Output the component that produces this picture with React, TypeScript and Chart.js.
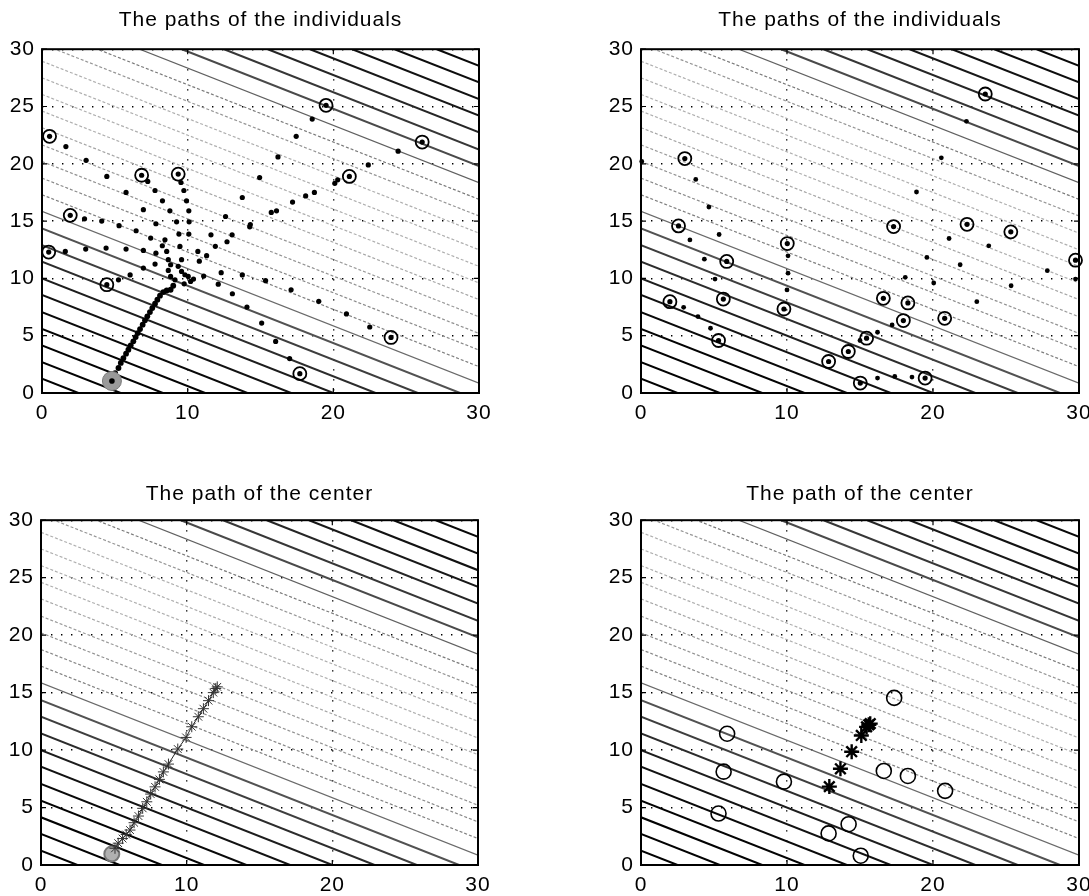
import React, { useEffect, useRef } from "react";
import { Chart, registerables } from "chart.js";

Chart.register(...registerables);

// ---------- data ----------
// contour levels of the nutrient plane f(x, y) = x + 2y
const CONTOUR_LEVELS = [
  2.5, 5.4, 8.3, 11.2, 14.1, 17.1, 20.0, 22.9, 25.8, 28.7,
  31.7, 34.6, 37.5, 40.4, 43.3, 46.3, 49.2, 52.1, 55.0, 57.9,
  60.9, 63.8, 66.7, 69.6, 72.5, 75.5, 78.4, 81.3, 84.2, 87.1,
];

const X_TICKS = [0, 10, 20, 30];
const Y_TICKS = [0, 5, 10, 15, 20, 25, 30];

const TITLE_INDIVIDUALS = "The paths of the individuals";
const TITLE_CENTER = "The path of the center";

// Run 1 – individuals
const RUN1_START: [number, number][] = [[4.8, 1.05]];
const RUN1_CHAIN: [number, number][] = [
  [5.02, 1.74], [5.25, 2.18], [5.41, 2.62], [5.59, 3.05], [5.77, 3.43], [5.93, 3.78],
  [6.09, 4.16], [6.27, 4.51], [6.43, 4.88], [6.57, 5.23], [6.73, 5.58], [6.91, 5.96],
  [7.07, 6.34], [7.23, 6.69], [7.41, 7.06], [7.57, 7.41], [7.76, 7.79], [7.92, 8.14],
  [8.1, 8.49], [8.33, 8.81], [8.56, 8.95], [8.83, 9.01], [9.01, 9.36],
];
const RUN1_CLUSTER: [number, number][] = [
  [8.67, 11.63], [8.83, 11.19], [8.67, 10.7], [8.83, 10.17], [9.13, 9.88], [9.35, 11.05],
  [9.58, 11.63], [9.58, 10.61], [9.81, 10.32], [9.76, 9.53], [10.04, 10.17], [10.2, 9.74],
  [8.56, 12.35],
];
const RUN1_DOTS: [number, number][] = [
  [1.64, 21.5], [3.03, 20.3], [4.45, 18.9], [5.77, 17.5], [2.92, 15.2], [4.1, 15.0],
  [5.29, 14.6], [1.6, 12.35], [3.0, 12.56], [4.4, 12.65], [5.77, 12.56], [6.46, 14.16],
  [6.96, 16.0], [7.26, 18.46], [7.76, 17.67], [8.27, 16.77], [8.78, 15.9], [9.24, 14.94],
  [9.4, 13.87], [9.47, 12.79], [9.54, 18.37], [9.74, 17.67], [9.92, 16.77], [10.08, 15.9],
  [10.1, 14.94], [10.08, 13.87], [7.46, 13.52], [7.82, 14.77], [8.44, 13.37], [7.82, 12.2],
  [8.26, 12.85], [6.96, 12.44], [6.96, 10.9], [6.05, 10.3], [7.76, 11.25], [5.25, 9.88],
  [10.7, 12.35], [11.3, 11.98], [10.8, 11.5], [11.1, 10.2], [10.4, 9.94], [11.6, 13.8],
  [11.9, 12.8], [12.3, 10.5], [12.1, 9.5], [12.6, 15.4], [12.7, 13.2], [13.05, 13.8],
  [13.07, 8.66], [13.75, 17.06], [13.75, 10.3], [14.07, 7.5], [14.3, 14.7], [14.26, 14.5],
  [14.94, 18.8], [15.08, 6.1], [15.35, 9.8], [15.74, 15.76], [16.1, 15.9], [16.2, 20.6],
  [16.04, 4.5], [17.0, 3.0], [17.1, 9.0], [17.2, 16.66], [17.45, 22.4], [18.1, 17.2],
  [18.55, 23.9], [18.7, 17.5], [19.0, 8.0], [20.1, 18.3], [20.3, 18.6], [20.9, 6.9],
  [22.4, 19.9], [22.5, 5.76], [24.45, 21.1],
];
const RUN1_FINAL: [number, number][] = [
  [0.52, 22.4], [19.5, 25.1], [26.1, 21.9], [21.1, 18.9], [6.84, 19.0], [9.35, 19.1],
  [1.94, 15.5], [0.46, 12.3], [4.45, 9.45], [23.96, 4.85], [17.7, 1.69],
];

// Run 2 – individuals
const RUN2_DOTS: [number, number][] = [
  [0.05, 20.2], [3.75, 18.64], [4.65, 16.23], [5.35, 13.83], [3.35, 13.36], [4.34, 11.68],
  [5.07, 9.94], [2.92, 7.48], [3.9, 6.67], [4.76, 5.65], [10.07, 11.97], [10.07, 10.46],
  [10.0, 8.99], [16.2, 1.3], [17.38, 1.45], [18.56, 1.39], [16.2, 5.3], [17.2, 5.94],
  [18.1, 10.09], [18.87, 17.54], [19.58, 11.83], [20.05, 9.6], [20.57, 20.52], [21.1, 13.48],
  [21.86, 11.19], [22.29, 23.71], [23.0, 7.97], [23.82, 12.84], [25.35, 9.36], [27.83, 10.67],
  [29.76, 9.94], [15.0, 4.58],
];
const RUN2_FINAL: [number, number][] = [
  [3.0, 20.46], [2.57, 14.58], [5.87, 11.48], [1.98, 7.97], [5.64, 8.2], [5.31, 4.58],
  [10.02, 13.04], [9.79, 7.33], [12.85, 2.75], [14.2, 3.62], [15.45, 4.78], [15.02, 0.87],
  [17.3, 14.52], [16.6, 8.26], [18.28, 7.86], [17.97, 6.32], [20.8, 6.52], [19.46, 1.3],
  [22.33, 14.72], [23.58, 26.09], [25.33, 14.06], [29.76, 11.59],
];

// Run 1 – center
const CENTER1_START: [number, number][] = [[4.86, 0.96]];
const CENTER1_PATH: [number, number][] = [
  [5.08, 1.45], [5.3, 1.9], [5.6, 2.3], [5.85, 2.65], [6.11, 3.04], [6.39, 3.68],
  [6.69, 4.26], [6.98, 4.93], [7.26, 5.5], [7.53, 6.17], [7.83, 6.8], [8.13, 7.45],
  [8.4, 8.1], [8.75, 8.78], [9.39, 10.09], [9.96, 11.1], [10.35, 12.03], [10.8, 12.9],
  [11.15, 13.6], [11.5, 14.3], [11.83, 15.0], [12.0, 15.36], [12.1, 15.5],
];

// Run 2 – center
const CENTER2_PATH: [number, number][] = [
  [12.9, 6.82], [13.66, 8.37], [14.43, 9.86], [15.09, 11.27], [15.45, 12.02], [15.6, 12.2], [15.7, 12.3],
];
const CENTER2_RING: [number, number][] = [
  [5.9, 11.42], [5.66, 8.12], [5.31, 4.48], [9.79, 7.25], [12.85, 2.75], [14.22, 3.55],
  [15.05, 0.81], [16.63, 8.18], [18.28, 7.75], [20.83, 6.45], [17.34, 14.54],
];

// ---------- helpers ----------
const AX_MIN = 0;
const AX_MAX = 30;
const FONT = "'Liberation Sans', Arial, Helvetica, sans-serif";

const toXY = (arr: [number, number][]) => arr.map(([x, y]) => ({ x, y }));

// end points of the contour x + 2y = level inside the plotted square
function contourPoints(level: number) {
  const pts: { x: number; y: number }[] = [];
  const inR = (v: number) => v >= AX_MIN && v <= AX_MAX;
  if (inR(level / 2)) pts.push({ x: AX_MIN, y: level / 2 });
  if (inR(level)) pts.push({ x: level, y: AX_MIN });
  if (inR((level - AX_MAX) / 2)) pts.push({ x: AX_MAX, y: (level - AX_MAX) / 2 });
  if (inR(level - 2 * AX_MAX)) pts.push({ x: level - 2 * AX_MAX, y: AX_MAX });
  return pts.slice(0, 2);
}

// grey shade of a level, as a jet colour map printed in black and white
function levelStyle(level: number) {
  const t = level / 90;
  const c = (v: number) => Math.max(0, Math.min(1, v));
  const r = c(1.5 - Math.abs(4 * t - 3));
  const g = c(1.5 - Math.abs(4 * t - 2));
  const b = c(1.5 - Math.abs(4 * t - 1));
  const lum = 0.3 * r + 0.59 * g + 0.11 * b;
  const v = Math.min(175, Math.round(255 * Math.pow(lum, 2)));
  return {
    color: `rgb(${v},${v},${v})`,
    width: v < 95 ? 2 : 1.2,
    dash: v < 110 ? [] : [3, 2],
  };
}

function contourDatasets() {
  return CONTOUR_LEVELS.map((lv) => {
    const st = levelStyle(lv);
    return {
      data: contourPoints(lv),
      showLine: true,
      borderColor: st.color,
      borderWidth: st.width,
      borderDash: st.dash,
      pointRadius: 0,
      pointHoverRadius: 0,
    };
  });
}

const framePlugin = {
  id: "frame",
  beforeDraw(chart: any) {
    chart.ctx.letterSpacing = "1px";
  },
  afterDatasetsDraw(chart: any) {
    const { ctx, chartArea } = chart;
    const { left, right, top, bottom } = chartArea;
    const xs = chart.scales.x;
    const ys = chart.scales.y;
    ctx.save();
    ctx.setLineDash([]);
    ctx.strokeStyle = "#000";
    ctx.lineWidth = 1.2;
    ctx.beginPath();
    for (const v of X_TICKS) {
      const px = xs.getPixelForValue(v);
      ctx.moveTo(px, bottom);
      ctx.lineTo(px, bottom - 5);
      ctx.moveTo(px, top);
      ctx.lineTo(px, top + 5);
    }
    for (const v of Y_TICKS) {
      const py = ys.getPixelForValue(v);
      ctx.moveTo(left, py);
      ctx.lineTo(left + 5, py);
      ctx.moveTo(right, py);
      ctx.lineTo(right - 5, py);
    }
    ctx.stroke();
    ctx.lineWidth = 2;
    ctx.strokeRect(left, top, right - left, bottom - top);
    ctx.restore();
  },
};

function makeConfig(title: string, markers: any[], titlePad: { top: number; bottom: number }) {
  const tickFont = { family: FONT, size: 21 };
  return {
    type: "scatter",
    data: { datasets: [...markers, ...contourDatasets()] },
    options: {
      animation: false,
      responsive: false,
      events: [],
      layout: { padding: 0 },
      plugins: {
        legend: { display: false },
        tooltip: { enabled: false },
        title: {
          display: true,
          text: title,
          color: "#000",
          font: { family: FONT, size: 21, weight: "normal" },
          padding: titlePad,
        },
      },
      scales: {
        x: {
          type: "linear",
          min: AX_MIN,
          max: AX_MAX,
          afterBuildTicks: (s: any) => {
            s.ticks = X_TICKS.map((v) => ({ value: v }));
          },
          ticks: { color: "#000", font: tickFont, padding: 8, maxRotation: 0 },
          grid: { color: "#000", lineWidth: 1.4, drawTicks: false },
          border: { display: false, dash: [1.4, 8.6] },
          afterFit: (s: any) => {
            s.height = 37;
          },
        },
        y: {
          type: "linear",
          min: AX_MIN,
          max: AX_MAX,
          afterBuildTicks: (s: any) => {
            s.ticks = Y_TICKS.map((v) => ({ value: v }));
          },
          ticks: { color: "#000", font: tickFont, padding: 7 },
          grid: { color: "#000", lineWidth: 1.4, drawTicks: false },
          border: { display: false, dash: [1.4, 8.6] },
          afterFit: (s: any) => {
            s.width = 42;
          },
        },
        // empty right-hand box so the plot frame is centred under its title
        yRight: {
          type: "linear",
          position: "right",
          min: AX_MIN,
          max: AX_MAX,
          ticks: { display: false },
          grid: { display: false, drawTicks: false },
          border: { display: false },
          afterFit: (s: any) => {
            s.width = 42;
          },
        },
      },
    },
    plugins: [framePlugin],
  };
}

const dotSet = (arr: [number, number][], r = 2.6) => ({
  data: toXY(arr),
  pointRadius: r,
  pointBackgroundColor: "#000",
  pointBorderColor: "#000",
  pointBorderWidth: 0,
  showLine: false,
  clip: false,
});
const ringSet = (arr: [number, number][], r = 6.5, w = 1.8) => ({
  data: toXY(arr),
  pointRadius: r,
  pointStyle: "circle",
  pointBackgroundColor: "rgba(0,0,0,0)",
  pointBorderColor: "#000",
  pointBorderWidth: w,
  showLine: false,
  clip: false,
});

function panel1() {
  return makeConfig(
    TITLE_INDIVIDUALS,
    [
      dotSet(RUN1_START, 2.8),
      {
        data: toXY(RUN1_START),
        pointRadius: 9.5,
        pointBackgroundColor: "#9a9a9a",
        pointBorderColor: "#7a7a7a",
        pointBorderWidth: 1,
        showLine: false,
        clip: false,
      },
      dotSet(RUN1_FINAL),
      ringSet(RUN1_FINAL),
      dotSet(RUN1_CHAIN, 2.9),
      dotSet(RUN1_CLUSTER),
      dotSet(RUN1_DOTS),
    ],
    { top: 8, bottom: 16 }
  );
}

function panel2() {
  return makeConfig(
    TITLE_INDIVIDUALS,
    [dotSet(RUN2_FINAL), ringSet(RUN2_FINAL), dotSet(RUN2_DOTS, 2.4)],
    { top: 8, bottom: 16 }
  );
}

function panel3() {
  return makeConfig(
    TITLE_CENTER,
    [
      {
        data: toXY(CENTER1_PATH),
        showLine: true,
        borderColor: "#222",
        borderWidth: 1,
        pointStyle: "star",
        pointRadius: 5.5,
        pointBorderColor: "#333",
        pointBorderWidth: 1,
        clip: false,
      },
      {
        data: toXY(CENTER1_START),
        pointRadius: 7.5,
        pointBackgroundColor: "rgba(150,150,150,0.75)",
        pointBorderColor: "#777",
        pointBorderWidth: 2,
        showLine: false,
        clip: false,
      },
    ],
    { top: 10.5, bottom: 13.5 }
  );
}

function panel4() {
  return makeConfig(
    TITLE_CENTER,
    [
      {
        data: toXY(CENTER2_PATH),
        showLine: false,
        pointStyle: "star",
        pointRadius: 7.5,
        pointBorderColor: "#000",
        pointBorderWidth: 2.4,
        clip: false,
      },
      ringSet(CENTER2_RING, 7.5, 1.6),
    ],
    { top: 10.5, bottom: 13.5 }
  );
}

function Panel(props: { left: number; top: number; width: number; height: number; build: () => any }) {
  const ref = useRef<HTMLCanvasElement | null>(null);
  useEffect(() => {
    if (!ref.current) return;
    const chart = new Chart(ref.current, props.build());
    return () => chart.destroy();
  }, []);
  return (
    <canvas
      ref={ref}
      width={props.width}
      height={props.height}
      style={{
        position: "absolute",
        left: props.left,
        top: props.top,
        width: props.width,
        height: props.height,
      }}
    />
  );
}

export default function App() {
  return (
    <div
      style={{
        position: "absolute",
        left: 0,
        top: 0,
        width: 1089,
        height: 896,
        overflow: "hidden",
        background: "#fff",
      }}
    >
      <Panel left={0} top={0} width={521} height={430} build={panel1} />
      <Panel left={599} top={0} width={522} height={430} build={panel2} />
      <Panel left={-1} top={471} width={521} height={431} build={panel3} />
      <Panel left={599} top={471} width={522} height={431} build={panel4} />
    </div>
  );
}
